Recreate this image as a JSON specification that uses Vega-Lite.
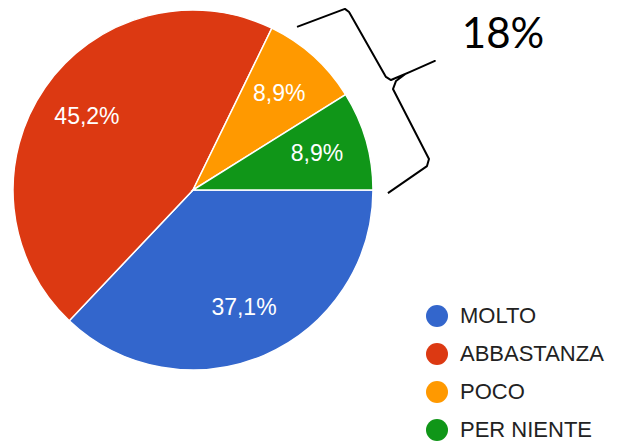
{
  "$schema": "https://vega.github.io/schema/vega-lite/v6.json",
  "width": 621,
  "height": 442,
  "autosize": {"type": "fit", "contains": "padding"},
  "padding": 0,
  "background": "white",
  "config": {"view": {"stroke": null}},
  "datasets": {
    "pie": [
      {"cat": "MOLTO", "value": 37.1, "label": "37,1%", "ord": 1},
      {"cat": "ABBASTANZA", "value": 45.2, "label": "45,2%", "ord": 2},
      {"cat": "POCO", "value": 8.9, "label": "8,9%", "ord": 3},
      {"cat": "PER NIENTE", "value": 8.9, "label": "8,9%", "ord": 4}
    ],
    "brace": [
      {"i": 1, "bx": 0.578, "by": 0.906},
      {"i": 2, "bx": 0.844, "by": 1.006},
      {"i": 3, "bx": 0.867, "by": 0.989},
      {"i": 4, "bx": 1.072, "by": 0.628},
      {"i": 5, "bx": 1.100, "by": 0.611},
      {"i": 6, "bx": 1.206, "by": 0.656},
      {"i": 7, "bx": 1.344, "by": 0.717},
      {"i": 8, "bx": 1.178, "by": 0.644},
      {"i": 9, "bx": 1.128, "by": 0.606},
      {"i": 10, "bx": 1.111, "by": 0.561},
      {"i": 11, "bx": 1.311, "by": 0.172},
      {"i": 12, "bx": 1.300, "by": 0.133},
      {"i": 13, "bx": 1.083, "by": -0.017}
    ],
    "note": [{"tx": 1.722, "ty": 0.789, "t": "18%"}]
  },
  "layer": [
    {
      "data": {"name": "pie"},
      "mark": {"type": "arc", "radius": 180, "stroke": "white", "strokeWidth": 1.5},
      "encoding": {
        "x": {"datum": 0, "type": "quantitative", "scale": {"domain": [-1.0722, 2.3778], "nice": false, "zero": false}, "axis": null},
        "y": {"datum": 0, "type": "quantitative", "scale": {"domain": [-1.4, 1.0556], "nice": false, "zero": false}, "axis": null},
        "theta": {"field": "value", "type": "quantitative", "stack": true, "scale": {"range": [1.5707963, 7.8539816]}},
        "order": {"field": "ord", "type": "quantitative"},
        "color": {
          "field": "cat",
          "type": "nominal",
          "scale": {"domain": ["MOLTO", "ABBASTANZA", "POCO", "PER NIENTE"], "range": ["#3366CC", "#DC3912", "#FF9900", "#109618"]},
          "legend": {
            "title": null,
            "orient": "none",
            "legendX": 426,
            "legendY": 305,
            "padding": 0,
            "symbolType": "circle",
            "symbolSize": 484,
            "symbolStrokeWidth": 0,
            "symbolOpacity": 1,
            "labelFont": "Liberation Sans",
            "labelFontSize": 22,
            "labelColor": "#222222",
            "labelOffset": 12,
            "labelLimit": 300,
            "rowPadding": 16
          }
        }
      }
    },
    {
      "data": {"name": "pie"},
      "mark": {"type": "text", "radius": 129, "fill": "white", "font": "Liberation Sans", "fontSize": 23, "align": "center", "baseline": "middle"},
      "encoding": {
        "x": {"datum": 0, "type": "quantitative"},
        "y": {"datum": 0, "type": "quantitative"},
        "theta": {"field": "value", "type": "quantitative", "stack": true},
        "order": {"field": "ord", "type": "quantitative"},
        "text": {"field": "label", "type": "nominal"}
      }
    },
    {
      "data": {"name": "brace"},
      "mark": {"type": "line", "color": "black", "strokeWidth": 2, "strokeJoin": "round"},
      "encoding": {
        "x": {"field": "bx", "type": "quantitative"},
        "y": {"field": "by", "type": "quantitative"},
        "order": {"field": "i", "type": "quantitative"}
      }
    },
    {
      "data": {"name": "note"},
      "mark": {"type": "text", "font": "Lato", "fontSize": 42, "color": "black", "align": "center", "baseline": "alphabetic"},
      "encoding": {
        "x": {"field": "tx", "type": "quantitative"},
        "y": {"field": "ty", "type": "quantitative"},
        "text": {"field": "t", "type": "nominal"}
      }
    }
  ]
}
